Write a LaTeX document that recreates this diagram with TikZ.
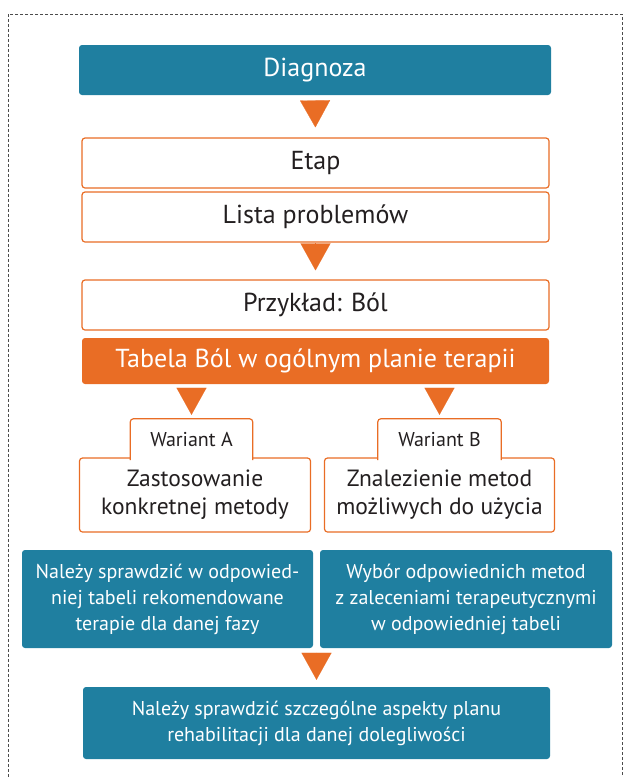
\documentclass[tikz,border=0pt]{standalone}
\usepackage{fontspec}
\setmainfont{PT Sans}
\usetikzlibrary{arrows.meta,calc}
\definecolor{tealbox}{RGB}{31,127,160}
\definecolor{orangebox}{RGB}{233,109,37}
\definecolor{darktext}{RGB}{35,31,32}
\newcommand{\bigtxt}{\fontsize{26}{30}\selectfont}
\newcommand{\midtxt}{\fontsize{23.5}{28}\selectfont}
\newcommand{\smalltxt}{\fontsize{20}{26}\selectfont}

\begin{document}
\begin{tikzpicture}[x=1pt,y=-1pt]
  \tikzset{
    tealnode/.style={fill=tealbox, rounded corners=3pt, text=white, align=center, inner sep=0pt},
    orangenode/.style={fill=orangebox, rounded corners=3pt, text=white, align=center, inner sep=0pt},
    whitenode/.style={draw=orangebox, line width=1.2pt, fill=white, rounded corners=3pt, text=darktext, align=center, inner sep=0pt},
    tabnode/.style={fill=white, text=darktext, inner sep=0pt},
    tabline/.style={draw=orangebox, line width=1.2pt, rounded corners=3pt},
    tri/.style={orangebox, line width=0.2pt, -{Triangle[length=27pt,width=30pt]}}
  }
\useasboundingbox (0,0) rectangle (624,777);
% outer frame, open at the bottom
\draw[gray!60!black, line width=0.8pt, dash pattern=on 3pt off 2pt] (8,14) rectangle (622,800);
% main column
\node[tealnode, minimum width=472, minimum height=50, font=\bigtxt] (diag) at (315,70) {Diagnoza};
\node[whitenode, minimum width=467, minimum height=50, font=\bigtxt] (etap) at (315.5,163) {Etap};
\node[whitenode, minimum width=467, minimum height=50, font=\bigtxt] (lista) at (315.5,217) {Lista problemów};
\node[whitenode, minimum width=467, minimum height=50, font=\bigtxt] (przyk) at (315.5,305) {Przykład: Ból};
\node[orangenode, minimum width=467, minimum height=46, font=\bigtxt] (tabela) at (315.5,361) {Tabela Ból w ogólnym planie terapii};
% two variants
\node[whitenode, minimum width=231, minimum height=74, font=\midtxt] (zast) at (195,495) {Zastosowanie\\konkretnej metody};
\node[whitenode, minimum width=230, minimum height=74, font=\midtxt] (znal) at (439.5,495) {Znalezienie metod\\możliwych do użycia};
\node[tabnode, minimum width=122, minimum height=41, font=\smalltxt] (warA) at (191.5,439.5) {Wariant A};
\node[tabnode, minimum width=123, minimum height=41, font=\smalltxt] (warB) at (439.5,439.5) {Wariant B};
\draw[tabline] (warA.south west) -- (warA.north west) -- (warA.north east) -- (warA.south east);
\draw[tabline] (warB.south west) -- (warB.north west) -- (warB.north east) -- (warB.south east);
% teal boxes
\node[tealnode, minimum width=291, minimum height=98, font=\smalltxt] (sprA) at (167.5,599) {Należy sprawdzić w odpowied-\\niej tabeli rekomendowane\\terapie dla danej fazy};
\node[tealnode, minimum width=292, minimum height=98, font=\smalltxt] (sprB) at (466,599) {Wybór odpowiednich metod\\z zaleceniami terapeutycznymi\\w odpowiedniej tabeli};
\node[tealnode, minimum width=467, minimum height=72, font=\smalltxt] (aspekty) at (316.5,723) {Należy sprawdzić szczególne aspekty planu\\rehabilitacji dla danej dolegliwości};
\coordinate (mid) at ($(sprA.south east)!0.5!(sprB.south west)$);
% arrows
\draw[tri, shorten <=5pt, shorten >=10pt] (diag.south) -- (etap.north);
\draw[tri, shorten <=4pt, shorten >=9pt] (lista.south) -- (przyk.north);
\draw[tri, shorten <=5pt, shorten >=4pt] (warA.north |- tabela.south) -- (warA.north);
\draw[tri, shorten <=5pt, shorten >=4pt] (warB.north |- tabela.south) -- (warB.north);
\draw[tri, shorten <=5pt, shorten >=7pt] (mid) -- (aspekty.north);
\end{tikzpicture}
\end{document}
